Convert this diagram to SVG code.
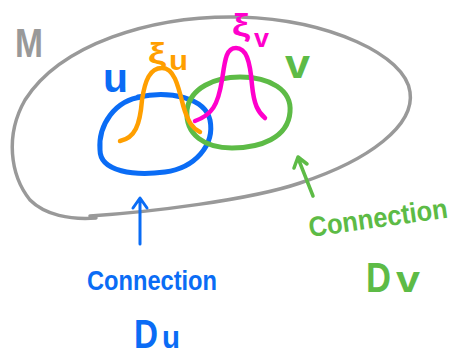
<svg xmlns="http://www.w3.org/2000/svg" width="453" height="355" viewBox="0 0 453 355">
<style>
.s{fill:none;stroke-linecap:round;stroke-linejoin:round}
.t{font-family:"Liberation Sans",Arial,sans-serif;font-weight:bold}
.blue{stroke:#0a6cf5}.tb{fill:#0a6cf5}
.green{stroke:#5dbb46}.tg{fill:#5dbb46}
.orange{stroke:#ff9f00}.to{fill:#ff9f00}
.mag{stroke:#ff00cc}.tm{fill:#ff00cc}
</style>
<rect width="453" height="355" fill="#fff"/>
<g id="manifold">
<path class="s" stroke="#999" stroke-width="3.5" d="M 90,216 C 150,212 250,200 300,183 C 370,160 415,125 410,92 C 405,55 330,20 240,17 C 150,15 60,45 25,100 C 5,135 10,175 30,200 C 45,215 70,220 96,218"/>
<text class="t" x="15" y="57" font-size="40" fill="#999" textLength="28" lengthAdjust="spacingAndGlyphs">M</text>
</g>
<g id="U">
<path class="s blue" stroke-width="5" d="M 138,97 C 170,90 205,98 210,120 C 215,145 195,168 165,172 C 135,176 100,172 100,150 C 98,125 115,100 142,97"/>
<text class="t tb" x="103" y="92" font-size="40" textLength="25" lengthAdjust="spacingAndGlyphs">u</text>
</g>
<g id="V">
<path class="s green" stroke-width="5" d="M 240,77 C 270,77 292,90 290,112 C 288,138 260,148 232,148 C 205,148 185,135 187,110 C 190,88 215,77 240,77"/>
<text class="t tg" x="285" y="78" font-size="40" textLength="25" lengthAdjust="spacingAndGlyphs">v</text>
</g>
<g id="xi_u">
<path class="s orange" stroke-width="4.5" d="M 120,141 C 135,138 140,125 142,100 C 145,80 150,68 162,68 C 174,68 178,85 183,105 C 188,122 192,128 200,132"/>
<text class="t to" x="148" y="64" font-size="30" textLength="18" lengthAdjust="spacingAndGlyphs">ξ</text>
<text class="t to" x="169" y="70" font-size="28" textLength="19" lengthAdjust="spacingAndGlyphs">u</text>
</g>
<g id="xi_v">
<path class="s mag" stroke-width="4.5" d="M 195,121 C 212,115 218,105 222,80 C 225,60 226,48 236,48 C 246,48 250,60 252,85 C 254,105 258,112 265,118"/>
<text class="t tm" x="232" y="36" font-size="32" textLength="18" lengthAdjust="spacingAndGlyphs">ξ</text>
<text class="t tm" x="254" y="47" font-size="26" textLength="15" lengthAdjust="spacingAndGlyphs">v</text>
</g>
<g id="connectors">
<path class="s blue" stroke-width="3" d="M 140,244 L 140,199 M 133,208 L 140,198 L 147,208"/>
<path class="s green" stroke-width="3.5" d="M 313,196 L 298,158 M 294,168 L 298,157 L 307,164"/>
</g>
<g id="label_Du">
<text class="t tb" x="87" y="290" font-size="28" textLength="130" lengthAdjust="spacingAndGlyphs">Connection</text>
<text class="t tb" x="134" y="348" font-size="40" textLength="24" lengthAdjust="spacingAndGlyphs">D</text>
<text class="t tb" x="162" y="348" font-size="32" textLength="18" lengthAdjust="spacingAndGlyphs">u</text>
</g>
<g id="label_Dv">
<text class="t tg" x="310" y="237" font-size="28" textLength="140" lengthAdjust="spacingAndGlyphs" transform="rotate(-8 310 237)">Connection</text>
<text class="t tg" x="366" y="292" font-size="42" textLength="25" lengthAdjust="spacingAndGlyphs">D</text>
<text class="t tg" x="396" y="292" font-size="36" textLength="24" lengthAdjust="spacingAndGlyphs">v</text>
</g>
</svg>
